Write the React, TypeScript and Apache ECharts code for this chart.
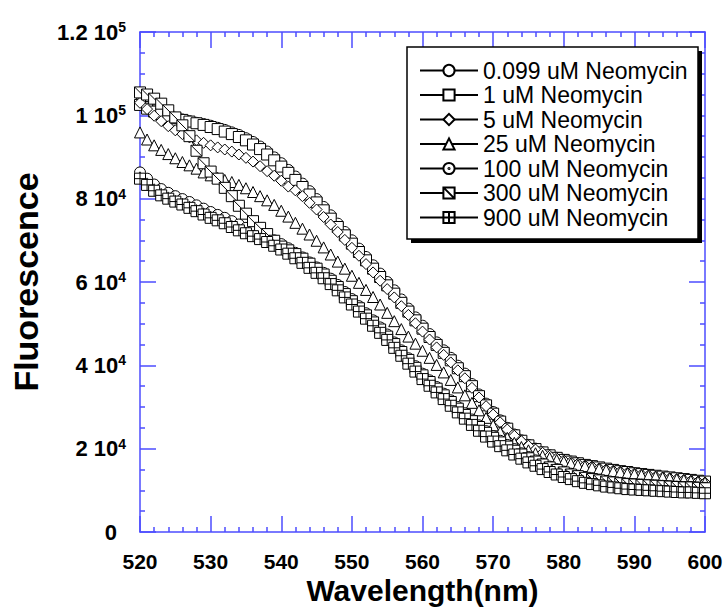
import React, { useEffect, useRef } from "react";
import * as echarts from "echarts";

const FONT = "'Liberation Sans', Arial, Helvetica, sans-serif";
const AXIS_COLOR = "#4d4dff";

// Wavelength (nm)
const wavelengths: number[] = [
  520, 521, 522, 523, 524, 525, 526, 527, 528, 529, 530, 531, 532, 533, 534, 535, 536, 537, 538, 539,
  540, 541, 542, 543, 544, 545, 546, 547, 548, 549, 550, 551, 552, 553, 554, 555, 556, 557, 558, 559,
  560, 561, 562, 563, 564, 565, 566, 567, 568, 569, 570, 571, 572, 573, 574, 575, 576, 577, 578, 579,
  580, 581, 582, 583, 584, 585, 586, 587, 588, 589, 590, 591, 592, 593, 594, 595, 596, 597, 598, 599, 600,
];

// Fluorescence, in units of 10^3
const neo0099: number[] = [
  103.0, 102.0, 101.2, 100.5, 99.9, 99.4, 99.0, 98.6, 98.2, 97.9, 97.5, 97.0, 96.5, 95.9, 95.3, 94.5, 93.6, 92.5, 91.3, 89.9,
  88.5, 86.9, 85.3, 83.6, 81.8, 79.9, 78.0, 76.0, 74.0, 72.0, 70.0, 68.0, 66.0, 64.0, 62.0, 60.0, 58.0, 55.8, 53.6, 51.5,
  49.5, 47.5, 45.5, 43.6, 41.8, 39.9, 38.0, 35.5, 33.0, 30.8, 28.8, 26.8, 25.0, 23.4, 22.0, 20.9, 20.0, 19.1, 18.4, 17.8,
  17.3, 16.9, 16.5, 16.1, 15.8, 15.4, 15.1, 14.8, 14.6, 14.3, 14.1, 13.9, 13.7, 13.4, 13.2, 13.0, 12.8, 12.6, 12.4, 12.2, 12.0,
];
const neo1: number[] = [
  102.5, 101.6, 100.9, 100.3, 99.8, 99.3, 98.9, 98.5, 98.1, 97.7, 97.2, 96.7, 96.1, 95.5, 94.8, 94.0, 93.0, 91.9, 90.6, 89.2,
  87.7, 86.2, 84.5, 82.8, 81.0, 79.1, 77.2, 75.2, 73.2, 71.2, 69.2, 67.2, 65.2, 63.2, 61.2, 59.2, 57.2, 55.0, 52.9, 50.8,
  48.8, 46.8, 44.9, 43.0, 41.2, 39.3, 37.4, 35.0, 32.6, 30.4, 28.4, 26.5, 24.8, 23.2, 21.9, 20.8, 19.9, 19.1, 18.4, 17.8,
  17.3, 16.9, 16.5, 16.1, 15.8, 15.5, 15.2, 14.9, 14.6, 14.4, 14.1, 13.9, 13.7, 13.5, 13.3, 13.1, 12.9, 12.7, 12.5, 12.3, 12.1,
];
const neo5: number[] = [
  103.0, 101.5, 99.9, 98.6, 97.4, 96.4, 95.5, 94.7, 94.0, 93.4, 92.8, 92.3, 91.8, 91.3, 90.6, 89.8, 88.9, 87.8, 86.6, 85.5,
  84.3, 82.9, 82.0, 80.6, 79.0, 77.4, 75.6, 73.8, 72.0, 70.1, 68.2, 66.3, 64.3, 62.3, 60.3, 58.3, 56.3, 54.2, 52.1, 50.1,
  48.1, 46.2, 44.3, 42.5, 40.7, 38.8, 36.9, 34.6, 32.3, 30.2, 28.2, 26.3, 24.6, 23.1, 21.8, 20.7, 19.8, 19.0, 18.3, 17.7,
  17.2, 16.8, 16.4, 16.0, 15.7, 15.3, 15.0, 14.7, 14.5, 14.2, 14.0, 13.8, 13.6, 13.3, 13.1, 12.9, 12.7, 12.5, 12.3, 12.1, 11.9,
];
const neo25: number[] = [
  95.9, 94.2, 92.8, 91.7, 90.7, 89.7, 88.8, 88.0, 87.2, 86.3, 85.6, 85.0, 84.5, 84.0, 83.3, 82.5, 81.6, 80.6, 79.6, 78.5,
  77.1, 75.7, 74.2, 72.8, 71.4, 69.9, 68.3, 66.6, 64.9, 63.2, 61.5, 59.8, 58.1, 56.4, 54.6, 52.6, 50.6, 48.7, 46.9, 45.2,
  43.5, 41.8, 40.1, 38.3, 36.5, 34.7, 32.8, 31.0, 29.2, 27.4, 25.6, 24.0, 22.6, 21.4, 20.4, 19.6, 18.9, 18.3, 17.8, 17.3,
  16.9, 16.5, 16.1, 15.8, 15.5, 15.2, 14.9, 14.6, 14.4, 14.1, 13.9, 13.7, 13.5, 13.3, 13.1, 12.9, 12.7, 12.5, 12.3, 12.1, 11.9,
];
const neo100: number[] = [
  86.3, 84.8, 83.4, 82.3, 81.4, 80.6, 79.9, 79.2, 78.4, 77.6, 76.8, 76.1, 75.4, 74.6, 73.8, 73.0, 72.3, 71.6, 70.9, 70.0,
  69.1, 68.1, 67.0, 65.9, 64.7, 63.5, 62.2, 60.8, 59.3, 57.6, 55.9, 54.2, 52.5, 50.8, 49.1, 47.4, 45.5, 43.6, 41.7, 39.8,
  38.0, 36.4, 34.8, 33.2, 31.6, 30.0, 28.5, 27.0, 25.6, 24.2, 23.0, 21.9, 20.9, 19.9, 18.9, 18.0, 17.2, 16.4, 15.7, 15.1,
  14.5, 14.0, 13.5, 13.1, 12.8, 12.5, 12.2, 12.0, 11.8, 11.6, 11.5, 11.4, 11.3, 11.2, 11.1, 11.0, 10.9, 10.8, 10.8, 10.7, 10.6,
];
const neo300: number[] = [
  105.5, 105.0, 104.0, 102.8, 101.2, 99.5, 97.6, 95.0, 91.5, 88.5, 86.5, 84.8, 82.6, 80.6, 78.3, 76.4, 74.6, 73.0, 71.5, 69.9,
  68.5, 67.6, 66.7, 65.6, 64.4, 63.2, 61.8, 60.3, 58.8, 57.1, 55.4, 53.7, 52.0, 50.3, 48.6, 46.9, 45.1, 43.2, 41.3, 39.4,
  37.6, 36.0, 34.4, 32.8, 31.2, 29.6, 28.1, 26.6, 25.2, 23.8, 22.6, 21.5, 20.5, 19.5, 18.6, 17.7, 16.9, 16.2, 15.5, 14.9,
  14.3, 13.8, 13.4, 13.0, 12.7, 12.4, 12.1, 11.9, 11.7, 11.5, 11.4, 11.3, 11.2, 11.1, 11.0, 10.9, 10.8, 10.7, 10.7, 10.6, 10.5,
];
const neo900: number[] = [
  84.8, 83.3, 81.9, 80.8, 80.0, 79.3, 78.6, 77.8, 77.0, 76.2, 75.4, 74.8, 74.1, 73.2, 72.4, 71.7, 71.0, 70.3, 69.6, 68.7,
  67.8, 66.8, 65.7, 64.6, 63.4, 62.2, 60.9, 59.5, 58.0, 56.3, 54.6, 52.9, 51.2, 49.5, 47.8, 46.1, 44.2, 42.3, 40.4, 38.5,
  36.7, 35.1, 33.5, 31.9, 30.3, 28.7, 27.2, 25.7, 24.3, 22.9, 21.7, 20.6, 19.6, 18.6, 17.6, 16.7, 15.9, 15.1, 14.4, 13.8,
  13.2, 12.7, 12.2, 11.8, 11.5, 11.2, 10.9, 10.7, 10.5, 10.3, 10.2, 10.1, 10.0, 9.9, 9.8, 9.7, 9.6, 9.5, 9.5, 9.4, 9.3,
];

const seriesNames: string[] = [
  "0.099 uM Neomycin",
  "1 uM Neomycin",
  "5 uM Neomycin",
  "25 uM Neomycin",
  "100 uM Neomycin",
  "300 uM Neomycin",
  "900 uM Neomycin",
];
const seriesValues: number[][] = [neo0099, neo1, neo5, neo25, neo100, neo300, neo900];
const seriesSymbols: string[] = [
  "circle",
  "rect",
  "diamond",
  "triangle",
  "path://M0,10A10,10 0 1,1 20,10A10,10 0 1,1 0,10Z M9,10A1,1 0 1,1 11,10A1,1 0 1,1 9,10Z",
  "path://M0,0L20,0L20,20L0,20Z M0,0L20,20",
  "path://M0,0L20,0L20,20L0,20Z M10,0L10,20 M0,10L20,10",
];

// Y tick labels (axis in units of 10^3)
const yTickValues: number[] = [0, 20, 40, 60, 80, 100, 120];
const yTickMantissa: string[] = ["0", "2", "4", "6", "8", "1", "1.2"];
const yTickExponent: string[] = ["", "4", "4", "4", "4", "5", "5"];

export default function App() {
  const ref = useRef<HTMLDivElement>(null);
  useEffect(() => {
    if (!ref.current) return;
    const chart = echarts.init(ref.current, undefined, { renderer: "svg" });
    const axisLine = { show: true, onZero: false, lineStyle: { color: AXIS_COLOR, width: 1.5 } };
    const axisTick = { show: true, inside: true, length: 16, lineStyle: { color: AXIS_COLOR, width: 1.5 } };
    const minorTickX = { show: true, splitNumber: 5, length: 5, lineStyle: { color: AXIS_COLOR, width: 1.5 } };
    const minorTickY = { show: true, splitNumber: 4, length: 5, lineStyle: { color: AXIS_COLOR, width: 1.5 } };
    const option: any = {
      animation: false,
      textStyle: { fontFamily: FONT },
      grid: { left: 140, right: 23, top: 32, bottom: 77, outerBoundsMode: "none", containLabel: false },
      xAxis: [
        {
          type: "value", min: 520, max: 600, interval: 10, position: "bottom",
          axisLine, axisTick, minorTick: minorTickX, splitLine: { show: false }, minorSplitLine: { show: false },
          axisLabel: { color: "#000", fontSize: 21, fontWeight: "bold", margin: 19, fontFamily: FONT },
          name: "Wavelength(nm)", nameLocation: "middle", nameGap: 43, nameMoveOverlap: false,
          nameTextStyle: { fontSize: 30, fontWeight: "bold", color: "#000", fontFamily: FONT },
        },
        {
          type: "value", min: 520, max: 600, interval: 10, position: "top",
          axisLine, axisTick, minorTick: minorTickX, splitLine: { show: false },
          axisLabel: { show: false },
        },
      ],
      yAxis: [
        {
          type: "value", min: 0, max: 120, interval: 20, position: "left",
          axisLine, axisTick, minorTick: minorTickY, splitLine: { show: false }, minorSplitLine: { show: false },
          axisLabel: {
            margin: 14,
            formatter: (v: number) => {
              const i = yTickValues.indexOf(v);
              if (i < 0) return "";
              return yTickExponent[i]
                ? `{m|${yTickMantissa[i]} 10}{e|${yTickExponent[i]}}`
                : `{z|${yTickMantissa[i]}}`;
            },
            rich: {
              m: { fontSize: 22, fontWeight: "bold", color: "#000", fontFamily: FONT, lineHeight: 24 },
              z: { fontSize: 22, fontWeight: "bold", color: "#000", fontFamily: FONT, lineHeight: 24, padding: [0, 9, 0, 0] },
              e: { fontSize: 14, fontWeight: "bold", color: "#000", fontFamily: FONT, lineHeight: 14, verticalAlign: "top" },
            },
          },
          name: "Fluorescence", nameLocation: "middle", nameGap: 97, nameRotate: 90, nameMoveOverlap: false,
          nameTextStyle: { fontSize: 34, fontWeight: "bold", color: "#000", fontFamily: FONT },
        },
        {
          type: "value", min: 0, max: 120, interval: 20, position: "right",
          axisLine, axisTick, minorTick: minorTickY, splitLine: { show: false },
          axisLabel: { show: false },
        },
      ],
      legend: {
        orient: "vertical", left: 419, top: 59, itemWidth: 58, itemHeight: 14, itemGap: 1.5, padding: 0,
        selectedMode: false, z: 10,
        textStyle: { fontSize: 23, color: "#000", fontFamily: FONT },
        data: seriesNames,
      },
      graphic: [
        { type: "rect", z: 8, shape: { x: 411, y: 51, width: 291, height: 192 }, style: { fill: "#000" } },
        { type: "rect", z: 9, shape: { x: 407, y: 47, width: 291, height: 192 }, style: { fill: "#fff", stroke: "#000", lineWidth: 1.5 } },
      ],
      series: seriesNames.map((name, i) => ({
        type: "line",
        name,
        xAxisIndex: 0,
        yAxisIndex: 0,
        data: wavelengths.map((w, j) => [w, seriesValues[i][j]]),
        symbol: seriesSymbols[i],
        symbolSize: 11,
        symbolKeepAspect: true,
        showSymbol: true,
        clip: false,
        silent: true,
        lineStyle: { color: "#000", width: 1 },
        itemStyle: { color: "#fff", borderColor: "#000", borderWidth: 1 },
        emphasis: { disabled: true },
      })),
    };
    chart.setOption(option);
    return () => chart.dispose();
  }, []);
  return <div ref={ref} style={{ width: 728, height: 609, position: "absolute", left: 0, top: 0 }} />;
}
